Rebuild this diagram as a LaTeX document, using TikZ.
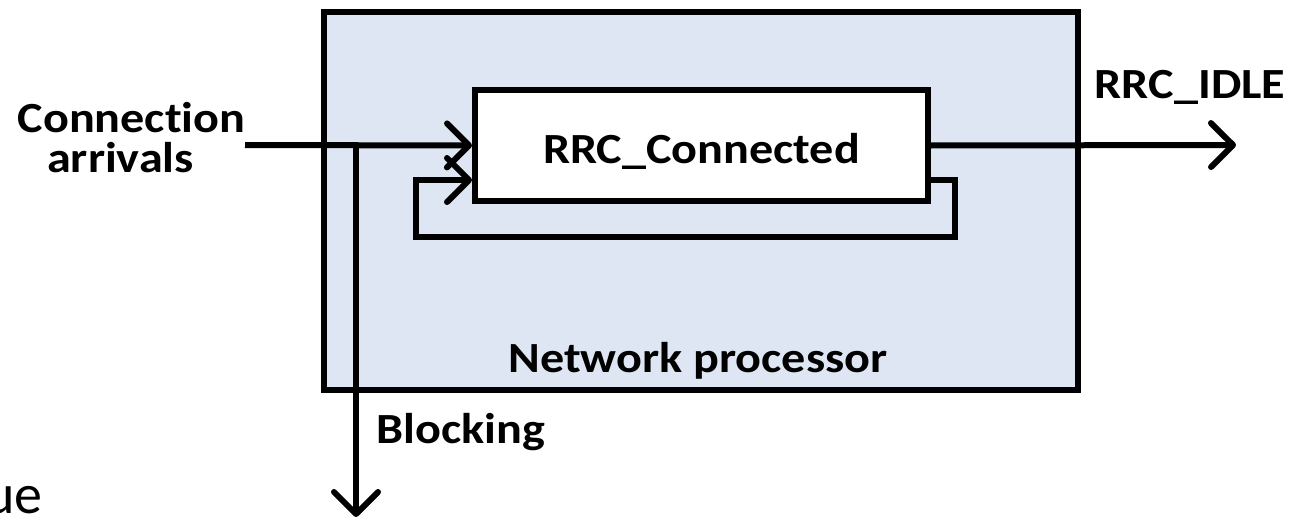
\documentclass[tikz,border=0pt]{standalone}
\usepackage{fontspec}
\setmainfont{Carlito}[Ligatures=NoCommon]
\newfontfamily\labelfont{Carlito}[FakeStretch=1.12, Ligatures=NoCommon]
\usetikzlibrary{arrows.meta}
\definecolor{procfill}{RGB}{222,230,243}
\tikzset{
  x=0.5pt, y=-0.5pt,
  flow/.style={line width=3pt, -{Straight Barb[length=11pt,width=22pt,line cap=round,line join=round]}},
  lbl/.style={font=\labelfont\fontsize{21.5}{21}\selectfont\bfseries, inner sep=0pt},
  box/.style={draw, line width=3pt, rectangle, inner sep=0pt}
}
\begin{document}
\begin{tikzpicture}
\useasboundingbox (0,0) rectangle (1310,519);
% network processor and the state inside it
\node[box, fill=procfill, minimum width=377pt, minimum height=189pt] (np) at (701,201) {};
\node[box, fill=white, minimum width=226.5pt, minimum height=55.5pt] (conn) at (701.5,145.5) {};
\node[lbl, anchor=base] (conntxt) at (701.5,163) {RRC\_Connected};
\node[lbl, anchor=base] (nptxt) at (698,372) {Network processor};
% inputs and outputs
\node[lbl, anchor=base] (arr1) at (131.5,133) {Connection};
\node[lbl, anchor=base] (arr2) at (120.5,172) {arrivals};
\coordinate (inL) at (245,145);
\coordinate (split) at (356,145);
\coordinate (blk) at (356,517);
\node[lbl, anchor=base west] (blktxt) at (376,443) {Blocking};
\coordinate (idle) at (1236,145);
\node[lbl, anchor=base] (idletxt) at (1190,98) {RRC\_IDLE};
% feedback loop corners
\coordinate (fbR) at (955,180);
\coordinate (fbL) at (416,237);
% arrival flow and blocking branch
\draw[flow] (inL) -- (conn.west);
\draw[flow] (split) -- (blk);
% departures
\draw[flow] (conn.east) -- (idle);
% retention loop back into the state
\draw[flow] (conn.east |- fbR) -- (fbR) |- (fbL) |- (conn.west |- fbR);
% partly visible label at the lower left
\node[font=\fontsize{28}{28}\selectfont, inner sep=0pt, anchor=base west] (q) at (-15,513) {ue};
\end{tikzpicture}
\end{document}
